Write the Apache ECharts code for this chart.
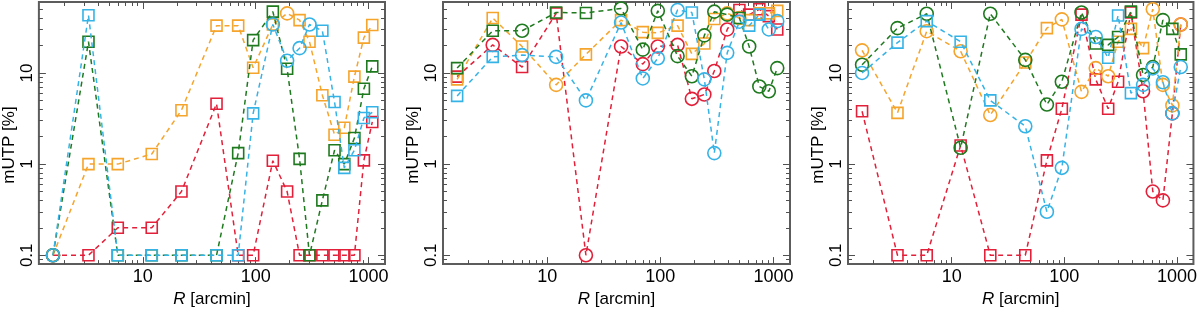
<!DOCTYPE html>
<html><head><meta charset="utf-8">
<script src="https://cdn.jsdelivr.net/npm/echarts@6/dist/echarts.min.js"></script>
<style>html,body{margin:0;padding:0;background:#fff}#c{width:1200px;height:313px}</style>
</head><body><div id="c"></div>
<script>
// x positions of the radial bins (arcmin)
const R_ARCMIN = [1.6, 3.3, 6, 12, 22, 45, 70, 95, 142, 190, 245, 300, 390, 500, 610, 750, 910, 1080];
const X_TICKS = [10, 100, 1000];
const Y_TICKS = [0.1, 1, 10];

// Panel 1 (values in %, marker: c = circle, s = square)
const P1_RED      = [0.1, 0.1, 0.2, 0.2, 0.5, 4.6, 0.1, 0.1, 1.09, 0.5, 0.1, 0.1, 0.1, 0.1, 0.1, 0.1, 1.1, 2.9];
const P1_RED_M    = 'csssssssssssssssss';
const P1_ORANGE   = [0.1, 1.0, 1.0, 1.29, 3.9, 33, 33, 11.4, 34, 45, 38, 22, 5.7, 2.1, 2.5, 9.1, 24.4, 33.5];
const P1_ORANGE_M = 'csssssssscssssssss';
const P1_GREEN    = [0.1, 22, 0.1, 0.1, 0.1, 0.1, 1.32, 22.9, 47, 11.1, 1.14, 0.1, 0.4, 1.42, 1.0, 1.93, 6.7, 11.8];
const P1_GREEN_M  = 'csssssssssssssssss';
const P1_CYAN     = [0.1, 43, 0.1, 0.1, 0.1, 0.1, 0.1, 3.6, 34, 13.6, 18.7, 34, 29, 4.8, 0.91, 1.42, 3.2, 3.7];
const P1_CYAN_M   = 'csssssssccccssssss';

// Panel 2
const P2_RED      = [9.1, 20.3, 11.6, 45, 0.1, 19.5, 12.5, 19.5, 20.3, 5.2, 5.8, 10.5, 30, 49, 43.6, 50, 42, 30];
const P2_RED_M    = 'scsscccccccccsssss';
const P2_ORANGE   = [8.5, 40, 19.5, 7.4, 16, 38, 28, 27.5, 33, 16.2, 21, 39, 45, 40, 38, 45, 45, 48];
const P2_ORANGE_M = 'ssscssssssssccssss';
const P2_GREEN    = [11.3, 29, 29, 46, 45.5, 51, 18, 48, 15.3, 9.2, 25.8, 47, 43.6, 40, 19.5, 7.1, 6.3, 11.3];
const P2_GREEN_M  = 'sscssccccccccscccc';
const P2_CYAN     = [5.6, 15, 15.7, 15, 5.0, 35.7, 8.7, 14.5, 49, 46, 8.5, 1.32, 16.6, 36.5, 33, 43.6, 30, 37];
const P2_CYAN_M   = 'sscccccccsccccsscc';

// Panel 3
const P3_RED      = [3.8, 0.1, 0.1, 1.6, 0.1, 0.1, 1.1, 4.05, 43.6, 8.5, 4.05, 8.0, 46, 6.3, 0.5, 0.4, 3.6, 34];
const P3_RED_M    = 'sssssssssssssccccc';
const P3_ORANGE   = [17.7, 3.65, 28.7, 17.3, 3.45, 13, 31, 38.7, 6.2, 11.3, 9.2, 22, 30.4, 18.7, 50, 7.4, 4.4, 34];
const P3_ORANGE_M = 'cscccssccccssscccc';
const P3_GREEN    = [12.3, 31, 44.6, 1.51, 44.6, 13.9, 4.5, 8.0, 46, 21, 20.3, 24.8, 47, 9.5, 11.6, 38, 30.4, 16];
const P3_GREEN_M  = 'cccccccccsssscccss';
const P3_CYAN     = [10, 21.5, 37, 22, 5.0, 2.6, 0.30, 0.91, 30.4, 24.8, 14.7, 42.7, 6.0, 7.4, 11.2, 7.9, 3.6, 11.6];
const P3_CYAN_M   = 'csssscccccsssccccc';

const COLORS = ['#e3203a', '#f5a42c', '#1f7a1f', '#36b3e6'];
const X_MIN = 1.2, X_MAX = 1400, Y_MIN = 0.08, Y_MAX = 60;

const PANELS = [
  [[P1_RED, P1_RED_M], [P1_ORANGE, P1_ORANGE_M], [P1_GREEN, P1_GREEN_M], [P1_CYAN, P1_CYAN_M]],
  [[P2_RED, P2_RED_M], [P2_ORANGE, P2_ORANGE_M], [P2_GREEN, P2_GREEN_M], [P2_CYAN, P2_CYAN_M]],
  [[P3_RED, P3_RED_M], [P3_ORANGE, P3_ORANGE_M], [P3_GREEN, P3_GREEN_M], [P3_CYAN, P3_CYAN_M]]
];
const GRID_LEFT = [37, 443, 848];

function minorTicks(lo, hi) {
  const out = [];
  for (let e = -2; e <= 3; e++) for (let m = 2; m <= 9; m++) {
    const v = +(m * Math.pow(10, e)).toPrecision(3);
    if (v > lo && v < hi) out.push(v);
  }
  return out;
}
const X_MINOR = minorTicks(X_MIN, X_MAX);
const Y_MINOR = minorTicks(Y_MIN, Y_MAX).concat([0.09]);

const FONT = 'Liberation Sans, Arial, Helvetica, sans-serif';
const TICK_COLOR = '#505050';

const grid = [], xAxis = [], yAxis = [], series = [];
GRID_LEFT.forEach((left, gi) => {
  grid.push({left: left, top: 2, width: gi === 0 ? 348 : 347, height: 274, show: true,
    borderColor: '#5c5c5c', borderWidth: 2, backgroundColor: 'transparent'});
  [['bottom', true, 7, X_TICKS], ['bottom', false, 4, X_MINOR], ['top', false, 7, X_TICKS], ['top', false, 4, X_MINOR]].forEach(([pos, lab, len, ticks]) => {
    xAxis.push({
      type: 'log', logBase: 10, gridIndex: gi, position: pos, min: X_MIN, max: X_MAX,
      axisLine: {show: false}, splitLine: {show: false}, minorTick: {show: false},
      axisTick: {show: true, inside: true, length: len, customValues: ticks, lineStyle: {color: TICK_COLOR, width: 1}},
      axisLabel: lab ? {show: true, customValues: X_TICKS, fontSize: 18, color: '#000', fontFamily: FONT, margin: 4,
        formatter: v => String(Math.round(v))} : {show: false},
      name: lab ? '{i|R} [arcmin]' : '', nameLocation: 'middle', nameGap: 21,
      nameTextStyle: {fontSize: 17, color: '#000', fontFamily: FONT,
        rich: {i: {fontStyle: 'italic', fontSize: 17, color: '#000', fontFamily: FONT}}}
    });
  });
  [['left', true, 7, Y_TICKS], ['left', false, 4, Y_MINOR], ['right', false, 7, Y_TICKS], ['right', false, 4, Y_MINOR]].forEach(([pos, lab, len, ticks]) => {
    yAxis.push({
      type: 'log', logBase: 10, gridIndex: gi, position: pos, min: Y_MIN, max: Y_MAX,
      axisLine: {show: false}, splitLine: {show: false}, minorTick: {show: false},
      axisTick: {show: true, inside: true, length: len, customValues: ticks, lineStyle: {color: TICK_COLOR, width: 1}},
      axisLabel: lab ? {show: true, customValues: Y_TICKS, rotate: 90, fontSize: 17, color: '#000', fontFamily: FONT, margin: 3,
        formatter: v => (v < 0.5 ? '0.1' : String(Math.round(v)))} : {show: false},
      name: lab ? 'mUTP [%]' : '', nameLocation: 'middle', nameGap: 13, nameRotate: 90,
      nameTextStyle: {fontSize: 17, color: '#000', fontFamily: FONT, padding: [0, 24, 0, 0]}
    });
  });
  PANELS[gi].forEach(([vals, marks], si) => {
    const col = COLORS[si];
    series.push({
      type: 'line', xAxisIndex: gi * 4, yAxisIndex: gi * 4, clip: false, z: 2 + si,
      lineStyle: {color: col, width: 1.5, type: [5, 4]},
      itemStyle: {color: 'rgba(255,255,255,0)', borderColor: col, borderWidth: 1.6},
      emphasis: {disabled: true},
      data: R_ARCMIN.map((x, i) => ({
        value: [x, vals[i]],
        symbol: marks[i] === 'c' ? 'circle' : 'rect',
        symbolSize: marks[i] === 'c' ? 13 : 11
      }))
    });
  });
});

const chart = echarts.init(document.getElementById('c'), null, {renderer: 'canvas'});
chart.setOption({animation: false, backgroundColor: '#fff', grid, xAxis, yAxis, series});
</script></body></html>
